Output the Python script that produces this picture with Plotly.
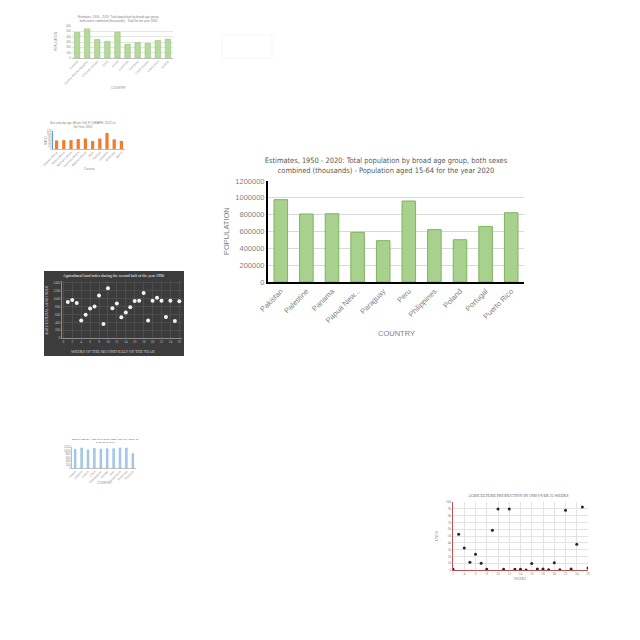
import plotly.graph_objects as go

# ---------------- main chart data ----------------
countries = ["Pakistan", "Palestine", "Panama", "Papua New...", "Paraguay", "Peru",
             "Philippines", "Poland", "Portugal", "Puerto Rico"]
population = [978000, 808000, 811000, 590000, 491000, 962000, 622000, 502000, 660000, 823000]
y_ticks = [0, 200000, 400000, 600000, 800000, 1000000, 1200000]

# ---------------- thumbnail data ----------------
t1_cats = ["Canada", "Central African Republic", "Channel Islands", "Chile", "China",
           "Colombia", "Comoros", "Cook Islands", "Costa Rica", "Croatia"]
t1_vals = [48000, 54600, 34800, 31200, 48600, 25800, 28800, 27600, 33000, 35400]

t3_cats = ["Eastern Africa", "Middle Africa", "Northern Africa", "Southern Africa", "Western Africa",
           "Asia", "Europe", "Oceania", "Americas", "World"]
t3_vals = [57, 59, 59, 66, 70, 53, 70, 107, 64, 54]

t4_weeks = list(range(1, 27))
t4_index = [917, 967, 892, 442, 592, 750, 800, 1083, 358, 1267, 758, 875, 525,
            650, 783, 942, 950, 1142, 442, 950, 1025, 950, 533, 950, 433, 933]

t5_cats = ["Kenya", "Lesotho", "Liberia", "Libya", "Madagascar", "Malawi", "Mali",
           "Mauritania", "Mauritius", "Morocco"]
t5_vals = [1050, 1140, 1030, 1120, 1070, 1100, 1100, 1140, 1140, 820]

t6_weeks = list(range(2, 27))
t6_units = [100, 5270, 3250, 1130, 2310, 990, 100, 5860, 8970, 100, 8970, 100, 100,
            0, 940, 150, 150, 50, 1080, 50, 8770, 150, 3790, 9260, 300]

W = 632  # figure size (page body adds an 8px offset)
OFF = 8


def px(x):
    return (x - OFF) / W


def py(y):
    return 1 - (y - OFF) / W


GRAY = "#595959"
LGRAY = "#7f7f7f"
fig = go.Figure()

# main
fig.add_trace(go.Bar(x=countries, y=population, xaxis="x", yaxis="y",
                     marker=dict(color="#a9d18e", line=dict(color="#7fb35f", width=1)),
                     width=0.53, showlegend=False))
# thumb 1
fig.add_trace(go.Bar(x=t1_cats, y=t1_vals, xaxis="x2", yaxis="y2",
                     marker=dict(color="#b5d99c", line=dict(color="#8cc06c", width=0.5)),
                     width=0.55, showlegend=False))
# thumb 3
fig.add_trace(go.Bar(x=t3_cats, y=t3_vals, xaxis="x3", yaxis="y3",
                     marker=dict(color="#ed7d31", line=dict(width=0)),
                     width=0.45, showlegend=False))
# thumb 4
fig.add_trace(go.Scatter(x=t4_weeks, y=t4_index, xaxis="x4", yaxis="y4", mode="markers",
                         marker=dict(color="#f2f2f2", size=4), showlegend=False))
# thumb 5
fig.add_trace(go.Bar(x=t5_cats, y=t5_vals, xaxis="x5", yaxis="y5",
                     marker=dict(color="#bdd7ee", line=dict(color="#5b9bd5", width=0.5)),
                     width=0.25, showlegend=False))
# thumb 6
fig.add_trace(go.Scatter(x=t6_weeks, y=t6_units, xaxis="x6", yaxis="y6", mode="markers",
                         marker=dict(color="#262626", size=3), showlegend=False))

tiny = dict(family="Liberation Sans", size=3, color="#8c8c8c")

fig.update_layout(
    width=W, height=W, autosize=False,
    margin=dict(l=0, r=0, t=0, b=0, autoexpand=False),
    paper_bgcolor="white", plot_bgcolor="rgba(0,0,0,0)",
    bargap=0.47,
    title=dict(text="Estimates, 1950 - 2020: Total population by broad age group, both sexes<br>"
                    "combined (thousands) - Population aged 15-64 for the year 2020",
               x=px(386), y=py(163), xanchor="center", yanchor="middle",
               font=dict(family="DejaVu Sans Condensed", size=7.4, color=GRAY)),
    # main axes
    xaxis=dict(domain=[px(268), px(524)], anchor="y", showgrid=False,
               showline=True, linecolor="black", linewidth=2,
               tickangle=-45, tickfont=dict(family="Liberation Sans", size=7.5, color=LGRAY),
               ticks=""),
    yaxis=dict(domain=[py(282), py(181)], anchor="x", range=[0, 1200000],
               tickvals=y_ticks, ticktext=[str(v) for v in y_ticks],
               showgrid=True, gridcolor="#d9d9d9", gridwidth=1,
               showline=True, linecolor="black", linewidth=2, zeroline=False,
               tickfont=dict(family="Liberation Sans", size=7.5, color=LGRAY), ticks=""),
    # thumb 1
    xaxis2=dict(domain=[px(72), px(173)], anchor="y2", showgrid=False, showline=True,
                linecolor="#bfbfbf", linewidth=0.5, tickangle=-45, tickfont=tiny, ticks=""),
    yaxis2=dict(domain=[py(58), py(26)], anchor="x2", range=[0, 60000], dtick=10000,
                gridcolor="#e6e6e6", gridwidth=0.5, zeroline=False, tickfont=tiny, ticks=""),
    # thumb 3
    xaxis3=dict(domain=[px(53), px(125)], anchor="y3", showgrid=False, showline=True,
                linecolor="#bfbfbf", linewidth=0.5, tickangle=-45, tickfont=tiny, ticks=""),
    yaxis3=dict(domain=[py(149), py(131)], anchor="x3", range=[0, 120], dtick=20,
                showgrid=False, showline=True, linecolor="#5b9bd5", linewidth=0.5,
                zeroline=False, tickfont=tiny, ticks=""),
    # thumb 4
    xaxis4=dict(domain=[px(62), px(182)], anchor="y4", range=[-0.3, 26.6], dtick=2,
                showgrid=True, gridcolor="#4d4d4d", gridwidth=0.5, showline=True,
                linecolor="#8c8c8c", linewidth=1, zeroline=False,
                tickfont=dict(family="Liberation Serif", size=3.5, color="#bfbfbf"), ticks=""),
    yaxis4=dict(domain=[py(338), py(281)], anchor="x4", range=[0, 1450], dtick=200,
                showgrid=True, gridcolor="#4d4d4d", gridwidth=0.5, showline=True,
                linecolor="#8c8c8c", linewidth=1, zeroline=False,
                tickfont=dict(family="Liberation Serif", size=3.5, color="#bfbfbf"), ticks=""),
    # thumb 5
    xaxis5=dict(domain=[px(72), px(136)], anchor="y5", showgrid=False, showline=True,
                linecolor="#bfbfbf", linewidth=0.5, tickangle=-45, tickfont=tiny, ticks=""),
    yaxis5=dict(domain=[py(468), py(447)], anchor="x5", range=[0, 1200], dtick=200,
                showgrid=False, showline=True, linecolor="#bfbfbf", linewidth=0.5,
                zeroline=False, tickfont=tiny, ticks=""),
    # thumb 6
    xaxis6=dict(domain=[px(453), px(588)], anchor="y6", range=[2, 26], dtick=2,
                showgrid=True, gridcolor="#e3e3e3", gridwidth=0.5, showline=True,
                linecolor="#c0504d", linewidth=1, zeroline=False,
                tickfont=dict(family="Liberation Serif", size=3.5, color=LGRAY), ticks=""),
    yaxis6=dict(domain=[py(570), py(502)], anchor="x6", range=[0, 10000], dtick=1000,
                showgrid=True, gridcolor="#e3e3e3", gridwidth=0.5, showline=True,
                linecolor="#c0504d", linewidth=1, zeroline=False,
                tickfont=dict(family="Liberation Serif", size=3.5, color=LGRAY), ticks=""),
    shapes=[dict(type="rect", xref="paper", yref="paper", x0=px(44), x1=px(184),
                 y0=py(356), y1=py(271), fillcolor="#3c3c3c", line=dict(width=0),
                 layer="below"),
            # faint thumbnail (line chart) frame
            dict(type="rect", xref="paper", yref="paper", x0=px(222), x1=px(272),
                 y0=py(58), y1=py(35), fillcolor="rgba(0,0,0,0)",
                 line=dict(color="#ececec", width=0.5), layer="below")],
)
for ax in ["xaxis", "yaxis", "xaxis2", "yaxis2", "xaxis3", "yaxis3", "xaxis4", "yaxis4",
           "xaxis5", "yaxis5", "xaxis6", "yaxis6"]:
    fig.layout[ax].automargin = False

annotations = [
    dict(text="POPULATION", x=px(226), y=py(231), textangle=-90,
         font=dict(family="Liberation Sans", size=7.5, color=LGRAY)),
    dict(text="COUNTRY", x=px(396), y=py(333),
         font=dict(family="Liberation Sans", size=7.5, color=LGRAY)),
    # thumb 1
    dict(text="Estimates, 1950 - 2020: Total population by broad age group,<br>both sexes combined (thousands) - Total for the year 1990",
         x=px(118), y=py(19), font=dict(family="Liberation Sans", size=3, color=LGRAY)),
    dict(text="POPULATION", x=px(56), y=py(42), textangle=-90, font=tiny),
    dict(text="COUNTRY", x=px(118), y=py(88), font=tiny),
    # thumb 3
    dict(text="Sex ratio by age (M per 100 F) (GRAPH: 2017) in<br>the Year 1950",
         x=px(83), y=py(125), font=dict(family="Liberation Sans", size=3, color=LGRAY)),
    dict(text="RATIO", x=px(46), y=py(140), textangle=-90, font=tiny),
    dict(text="Country", x=px(89), y=py(169), font=tiny),
    # thumb 4
    dict(text="Agricultural land index during the second half of the year 1990",
         x=px(113), y=py(275), font=dict(family="Liberation Serif", size=4, color="#ffffff")),
    dict(text="AGRICULTURAL LAND INDEX", x=px(47), y=py(310), textangle=-90,
         font=dict(family="Liberation Serif", size=3.5, color="#d9d9d9")),
    dict(text="WEEKS OF THE SECOND HALF OF THE YEAR", x=px(113), y=py(351),
         font=dict(family="Liberation Serif", size=4, color="#d9d9d9")),
    # thumb 5
    dict(text="ESTIMATES BY AGE (IN THOUSANDS) (GRAPH: 2017) IN<br>THE YEAR 1990",
         x=px(105), y=py(441), font=dict(family="Liberation Sans", size=2.5, color=GRAY)),
    dict(text="COUNTRY", x=px(104), y=py(483), font=tiny),
    # thumb 6
    dict(text="AGRICULTURE PRODUCTION IN 1990 OVER 25 WEEKS", x=px(518), y=py(495),
         font=dict(family="Liberation Serif", size=4, color=GRAY)),
    dict(text="UNITS", x=px(437), y=py(536), textangle=-90,
         font=dict(family="Liberation Serif", size=3.5, color=LGRAY)),
    dict(text="WEEKS", x=px(520), y=py(579),
         font=dict(family="Liberation Serif", size=3.5, color=LGRAY)),
]
for a in annotations:
    a.update(xref="paper", yref="paper", showarrow=False, xanchor="center", yanchor="middle")
fig.update_layout(annotations=annotations)

fig.write_html("out.html")
